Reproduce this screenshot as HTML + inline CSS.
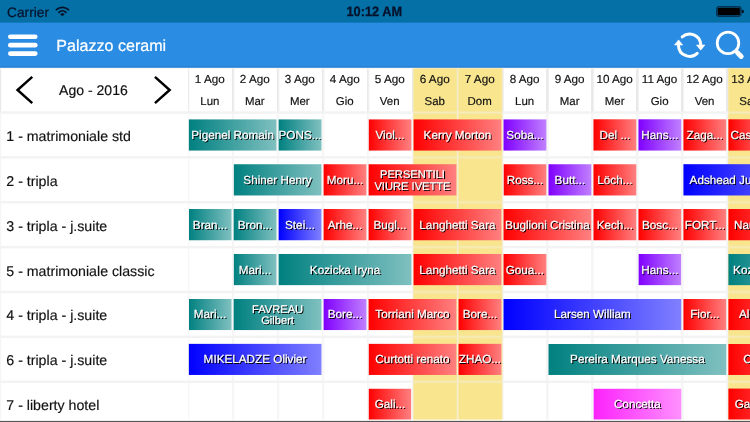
<!DOCTYPE html>
<html lang="it">
<head>
<meta charset="utf-8">
<title>Palazzo cerami</title>
<style>
html,body{margin:0;padding:0;background:#fff;}
html{width:750px;height:422px;overflow:hidden;}
body{width:750px;height:422px;overflow:hidden;position:relative;font-family:"Liberation Sans",sans-serif;}
#app{position:absolute;left:0;top:0;width:6670px;height:3750px;transform-origin:0 0;transform:scale(0.112444,0.112533);background:#fff;filter:blur(3.2px);}
#clip{position:absolute;left:0;top:0;width:750px;height:422px;overflow:hidden;}
#icons{position:absolute;left:0;top:0;}
.t{background:linear-gradient(90deg,#008080,#80c0c0);}
.r{background:linear-gradient(90deg,#ff0000,#ff8080);}
.p{background:linear-gradient(90deg,#8000ff,#c080ff);}
.b{background:linear-gradient(90deg,#0000ff,#8080ff);}
.m{background:linear-gradient(90deg,#fc22fc,#fe90fe);}

#app *{box-sizing:border-box;text-rendering:geometricPrecision;}
.abs{position:absolute;}
#navbg{left:0;top:0;width:6670px;height:600px;background:#2b8ce3;}
#status{left:0;top:0;width:6670px;height:200.5px;background:#0470a5;color:#06122b;}
#status .carrier{left:63px;top:36px;font-size:122px;line-height:140px;-webkit-text-stroke:2px #06122b;}
#status .time{left:-7px;width:6670px;top:30px;text-align:center;font-weight:bold;font-size:121px;line-height:140px;-webkit-text-stroke:2.5px #06122b;}
#status .time span{display:inline-block;transform:scaleX(0.94);}
#nav{left:0;top:200px;width:6670px;height:400px;color:#fff;border-bottom:9px solid #2279d0;}
#nav .title{left:500px;top:0;height:400px;line-height:410px;font-size:143px;-webkit-text-stroke:2px #fff;}
.vl{top:600px;width:20px;height:3200px;background:linear-gradient(180deg,#e9e9e9 0,#e9e9e9 390px,#f5f5f5 400px,#f5f5f5 100%);}
.hl{left:0;height:22px;width:6670px;background:#f3f3f3;}
.wk{width:400px;background:#f8e58d;border:10px solid #f6ebbc;}
.dh{top:600px;width:400px;height:400px;text-align:center;font-size:104px;color:#111;-webkit-text-stroke:1.5px #111;}
.dh span{display:block;position:absolute;left:0;width:400px;line-height:120px;}
.dh .d1{top:45px;}
.dh .d2{top:236px;font-size:102px;}
.month{left:0;top:600px;width:1670px;height:400px;line-height:396px;text-align:center;font-size:125px;color:#111;padding-right:8px;-webkit-text-stroke:1.5px #111;}
.arrows{left:0;top:600px;width:1670px;height:400px;}
.room{left:56px;height:400px;line-height:400px;font-size:126.2px;-webkit-text-stroke:1.5px #111;color:#111;white-space:nowrap;}
.bk{height:278.1px;padding-top:2px;-webkit-text-stroke:2px #fff;color:#fff;font-size:104.2px;text-align:center;white-space:nowrap;overflow:hidden;text-shadow:9.5px 9.5px 5px #000;display:flex;align-items:center;justify-content:center;line-height:105px;}
.bk.cut{justify-content:flex-start;}
</style>
</head>
<body>
<div id="clip">
<div id="app">
<div id="grid">
<div class="abs vl" style="left:0px;width:10px"></div>
<div class="abs vl" style="left:1670px;width:11px"></div>
<div class="abs vl" style="left:2060px"></div>
<div class="abs vl" style="left:2460px"></div>
<div class="abs vl" style="left:2860px"></div>
<div class="abs vl" style="left:3260px"></div>
<div class="abs vl" style="left:3660px"></div>
<div class="abs vl" style="left:4060px"></div>
<div class="abs vl" style="left:4460px"></div>
<div class="abs vl" style="left:4860px"></div>
<div class="abs vl" style="left:5260px"></div>
<div class="abs vl" style="left:5660px"></div>
<div class="abs vl" style="left:6060px"></div>
<div class="abs vl" style="left:6460px"></div>
<div class="abs vl" style="left:6860px"></div>
<div class="abs hl" style="top:589px"></div>
<div class="abs hl" style="top:988.7px"></div>
<div class="abs hl" style="top:1387.4px"></div>
<div class="abs hl" style="top:1786.2px"></div>
<div class="abs hl" style="top:2184.9px"></div>
<div class="abs hl" style="top:2583.6px"></div>
<div class="abs hl" style="top:2982.3px"></div>
<div class="abs hl" style="top:3381.1px"></div>
<div class="abs hl" style="top:3779.8px"></div>
<div class="abs wk" style="left:3670px;top:600px;height:399.7px"></div>
<div class="abs wk" style="left:3670px;top:999.7px;height:398.7px"></div>
<div class="abs wk" style="left:3670px;top:1398.4px;height:398.7px"></div>
<div class="abs wk" style="left:3670px;top:1797.2px;height:398.7px"></div>
<div class="abs wk" style="left:3670px;top:2195.9px;height:398.7px"></div>
<div class="abs wk" style="left:3670px;top:2594.6px;height:398.7px"></div>
<div class="abs wk" style="left:3670px;top:2993.3px;height:398.7px"></div>
<div class="abs wk" style="left:3670px;top:3392.1px;height:398.7px"></div>
<div class="abs wk" style="left:4070px;top:600px;height:399.7px"></div>
<div class="abs wk" style="left:4070px;top:999.7px;height:398.7px"></div>
<div class="abs wk" style="left:4070px;top:1398.4px;height:398.7px"></div>
<div class="abs wk" style="left:4070px;top:1797.2px;height:398.7px"></div>
<div class="abs wk" style="left:4070px;top:2195.9px;height:398.7px"></div>
<div class="abs wk" style="left:4070px;top:2594.6px;height:398.7px"></div>
<div class="abs wk" style="left:4070px;top:2993.3px;height:398.7px"></div>
<div class="abs wk" style="left:4070px;top:3392.1px;height:398.7px"></div>
<div class="abs wk" style="left:6470px;top:600px;height:399.7px"></div>
<div class="abs wk" style="left:6470px;top:999.7px;height:398.7px"></div>
<div class="abs wk" style="left:6470px;top:1398.4px;height:398.7px"></div>
<div class="abs wk" style="left:6470px;top:1797.2px;height:398.7px"></div>
<div class="abs wk" style="left:6470px;top:2195.9px;height:398.7px"></div>
<div class="abs wk" style="left:6470px;top:2594.6px;height:398.7px"></div>
<div class="abs wk" style="left:6470px;top:2993.3px;height:398.7px"></div>
<div class="abs wk" style="left:6470px;top:3392.1px;height:398.7px"></div>
</div>
<div class="abs month">Ago - 2016</div>
<svg class="abs arrows" viewBox="0 0 167 40"><g fill="none" stroke="#000" stroke-width="2.2" stroke-linejoin="miter" stroke-linecap="butt"><path d="M28.7 8.3 L15.6 20 L28.7 31.7"/><path d="M137.8 8.3 L150.9 20 L137.8 31.7"/></g></svg>
<div class="abs dh" style="left:1666px"><span class="d1">1 Ago</span><span class="d2">Lun</span></div>
<div class="abs dh" style="left:2066px"><span class="d1">2 Ago</span><span class="d2">Mar</span></div>
<div class="abs dh" style="left:2466px"><span class="d1">3 Ago</span><span class="d2">Mer</span></div>
<div class="abs dh" style="left:2866px"><span class="d1">4 Ago</span><span class="d2">Gio</span></div>
<div class="abs dh" style="left:3266px"><span class="d1">5 Ago</span><span class="d2">Ven</span></div>
<div class="abs dh" style="left:3666px"><span class="d1">6 Ago</span><span class="d2">Sab</span></div>
<div class="abs dh" style="left:4066px"><span class="d1">7 Ago</span><span class="d2">Dom</span></div>
<div class="abs dh" style="left:4466px"><span class="d1">8 Ago</span><span class="d2">Lun</span></div>
<div class="abs dh" style="left:4866px"><span class="d1">9 Ago</span><span class="d2">Mar</span></div>
<div class="abs dh" style="left:5266px"><span class="d1">10 Ago</span><span class="d2">Mer</span></div>
<div class="abs dh" style="left:5666px"><span class="d1">11 Ago</span><span class="d2">Gio</span></div>
<div class="abs dh" style="left:6066px"><span class="d1">12 Ago</span><span class="d2">Ven</span></div>
<div class="abs dh" style="left:6466px"><span class="d1">13 Ago</span><span class="d2">Sab</span></div>
<div class="abs room" style="top:1008.6px">1 - matrimoniale std</div>
<div class="abs bk t" style="left:1677.5px;top:1059.7px;width:781.5px;"><span>Pigenel Romain</span></div>
<div class="abs bk t" style="left:2477.5px;top:1059.7px;width:381.5px;"><span>PONS...</span></div>
<div class="abs bk r" style="left:3277.5px;top:1059.7px;width:381.5px;"><span>Viol...</span></div>
<div class="abs bk r" style="left:3677.5px;top:1059.7px;width:781.5px;"><span>Kerry Morton</span></div>
<div class="abs bk p" style="left:4477.5px;top:1059.7px;width:381.5px;"><span>Soba...</span></div>
<div class="abs bk r" style="left:5277.5px;top:1059.7px;width:381.5px;"><span>Del ...</span></div>
<div class="abs bk p" style="left:5677.5px;top:1059.7px;width:381.5px;"><span>Hans...</span></div>
<div class="abs bk r" style="left:6077.5px;top:1059.7px;width:381.5px;"><span>Zaga...</span></div>
<div class="abs bk r cut" style="left:6477.5px;top:1059.7px;width:381.5px;padding-left:19px;"><span>Cas...</span></div>
<div class="abs room" style="top:1407.8px">2 - tripla</div>
<div class="abs bk t" style="left:2077.5px;top:1458.5px;width:781.5px;"><span>Shiner Henry</span></div>
<div class="abs bk r" style="left:2877.5px;top:1458.5px;width:381.5px;"><span>Moru...</span></div>
<div class="abs bk r" style="left:3277.5px;top:1458.5px;width:781.5px;font-size:99px;"><span>PERSENTILI<br>VIURE IVETTE</span></div>
<div class="abs bk r" style="left:4477.5px;top:1458.5px;width:381.5px;"><span>Ross...</span></div>
<div class="abs bk p" style="left:4877.5px;top:1458.5px;width:381.5px;"><span>Butt...</span></div>
<div class="abs bk r" style="left:5277.5px;top:1458.5px;width:381.5px;"><span>Löch...</span></div>
<div class="abs bk b cut" style="left:6077.5px;top:1458.5px;width:1181.5px;padding-left:55px;"><span>Adshead Julia Ann</span></div>
<div class="abs room" style="top:1806.9px">3 - tripla - j.suite</div>
<div class="abs bk t" style="left:1677.5px;top:1857.3px;width:381.5px;"><span>Bran...</span></div>
<div class="abs bk t" style="left:2077.5px;top:1857.3px;width:381.5px;"><span>Bron...</span></div>
<div class="abs bk b" style="left:2477.5px;top:1857.3px;width:381.5px;"><span>Stei...</span></div>
<div class="abs bk r" style="left:2877.5px;top:1857.3px;width:381.5px;"><span>Arhe...</span></div>
<div class="abs bk r" style="left:3277.5px;top:1857.3px;width:381.5px;"><span>Bugl...</span></div>
<div class="abs bk r" style="left:3677.5px;top:1857.3px;width:781.5px;"><span>Langhetti Sara</span></div>
<div class="abs bk r" style="left:4477.5px;top:1857.3px;width:781.5px;"><span>Buglioni Cristina</span></div>
<div class="abs bk r" style="left:5277.5px;top:1857.3px;width:381.5px;"><span>Kech...</span></div>
<div class="abs bk r" style="left:5677.5px;top:1857.3px;width:381.5px;"><span>Bosc...</span></div>
<div class="abs bk r" style="left:6077.5px;top:1857.3px;width:381.5px;"><span>FORT...</span></div>
<div class="abs bk r cut" style="left:6477.5px;top:1857.3px;width:781.5px;padding-left:50px;"><span>Nauman Ali</span></div>
<div class="abs room" style="top:2206.1px">5 - matrimoniale classic</div>
<div class="abs bk t" style="left:2077.5px;top:2256.1px;width:381.5px;"><span>Mari...</span></div>
<div class="abs bk t" style="left:2477.5px;top:2256.1px;width:1181.5px;"><span>Kozicka Iryna</span></div>
<div class="abs bk r" style="left:3677.5px;top:2256.1px;width:781.5px;"><span>Langhetti Sara</span></div>
<div class="abs bk r" style="left:4477.5px;top:2256.1px;width:381.5px;"><span>Goua...</span></div>
<div class="abs bk p" style="left:5677.5px;top:2256.1px;width:381.5px;"><span>Hans...</span></div>
<div class="abs bk t cut" style="left:6477.5px;top:2256.1px;width:781.5px;padding-left:42px;"><span>Kozicka Iryna</span></div>
<div class="abs room" style="top:2605.3px">4 - tripla - j.suite</div>
<div class="abs bk t" style="left:1677.5px;top:2654.9px;width:381.5px;"><span>Mari...</span></div>
<div class="abs bk t" style="left:2077.5px;top:2654.9px;width:781.5px;font-size:99px;"><span>FAVREAU<br>Gilbert</span></div>
<div class="abs bk p" style="left:2877.5px;top:2654.9px;width:381.5px;"><span>Bore...</span></div>
<div class="abs bk r" style="left:3277.5px;top:2654.9px;width:781.5px;"><span>Torriani Marco</span></div>
<div class="abs bk r" style="left:4077.5px;top:2654.9px;width:381.5px;"><span>Bore...</span></div>
<div class="abs bk b" style="left:4477.5px;top:2654.9px;width:1581.5px;"><span>Larsen William</span></div>
<div class="abs bk r" style="left:6077.5px;top:2654.9px;width:381.5px;"><span>Fior...</span></div>
<div class="abs bk r cut" style="left:6477.5px;top:2654.9px;width:781.5px;padding-left:95px;"><span>Aldo Bianchi</span></div>
<div class="abs room" style="top:3004.4px">6 - tripla - j.suite</div>
<div class="abs bk b" style="left:1677.5px;top:3053.8px;width:1181.5px;"><span>MIKELADZE Olivier</span></div>
<div class="abs bk r" style="left:3277.5px;top:3053.8px;width:781.5px;"><span>Curtotti renato</span></div>
<div class="abs bk r" style="left:4077.5px;top:3053.8px;width:381.5px;"><span>ZHAO...</span></div>
<div class="abs bk t" style="left:4877.5px;top:3053.8px;width:1581.5px;"><span>Pereira Marques Vanessa</span></div>
<div class="abs bk r cut" style="left:6477.5px;top:3053.8px;width:781.5px;padding-left:133px;"><span>Carlo Rossi</span></div>
<div class="abs room" style="top:3403.6px">7 - liberty hotel</div>
<div class="abs bk r" style="left:3277.5px;top:3452.6px;width:381.5px;"><span>Gali...</span></div>
<div class="abs bk m" style="left:5277.5px;top:3452.6px;width:781.5px;"><span>Concetta</span></div>
<div class="abs bk r cut" style="left:6477.5px;top:3452.6px;width:781.5px;padding-left:56px;"><span>Galli Piero</span></div>
<div class="abs" id="navbg"></div>
<div class="abs" id="status">
<div class="abs carrier">Carrier</div>
<div class="abs time"><span>10:12 AM</span></div>
</div>
<div class="abs" id="nav">
<div class="abs title">Palazzo cerami</div>
</div>
</div>
</div>
<svg id="icons" width="750" height="422" viewBox="0 0 750 422">
<g fill="none" stroke="#06122b" stroke-width="1.75" stroke-linecap="round">
<path d="M56.4 9.7 A8.7 8.7 0 0 1 68.4 9.7"/>
<path d="M58.9 12.3 A5.1 5.1 0 0 1 65.9 12.3"/>
</g>
<path d="M62.4 16.1 L60.5 14.2 A2.7 2.7 0 0 1 64.3 14.2 Z" fill="#06122b" stroke="#06122b" stroke-width="0.5" stroke-linejoin="round"/>
<rect x="716.6" y="6.6" width="24.5" height="9.8" rx="1.9" fill="#04456b" stroke="#032a45" stroke-width="0.9"/>
<rect x="717.9" y="7.9" width="21.9" height="7.2" rx="0.6" fill="#000"/>
<path d="M741.9 9.8 h0.4 a1.7 1.7 0 0 1 0 3.4 h-0.4 z" fill="#04101f"/>
<g fill="#fff">
<rect x="8" y="34.4" width="29.6" height="4.7" rx="2.35"/>
<rect x="8" y="42.8" width="29.6" height="4.7" rx="2.35"/>
<rect x="8" y="51.2" width="29.6" height="4.7" rx="2.35"/>
</g>
<g fill="none" stroke="#fff" stroke-width="3" stroke-linecap="round">
<path d="M682.2 36.9 A11.1 11.1 0 0 1 700.7 44.6"/>
<path d="M678.5 45.6 A11.1 11.1 0 0 0 697.2 53.3"/>
</g>
<path d="M696.5 45 L704.9 45 L700.7 50.2 Z" fill="#fff" stroke="#fff" stroke-width="0.6" stroke-linejoin="round"/>
<path d="M674.5 45 L682.7 45 L678.6 39.9 Z" fill="#fff" stroke="#fff" stroke-width="0.6" stroke-linejoin="round"/>
<circle cx="728" cy="42.9" r="10.8" fill="none" stroke="#fff" stroke-width="2.8"/>
<path d="M737.4 52.6 L741.2 56.5" stroke="#fff" stroke-width="4.9" stroke-linecap="round"/>
<rect x="0" y="419.5" width="750" height="1.6" fill="#fff" opacity="0.85"/>
<rect x="0" y="420.9" width="750" height="1.2" fill="#555"/>
</svg>
</body>
</html>
